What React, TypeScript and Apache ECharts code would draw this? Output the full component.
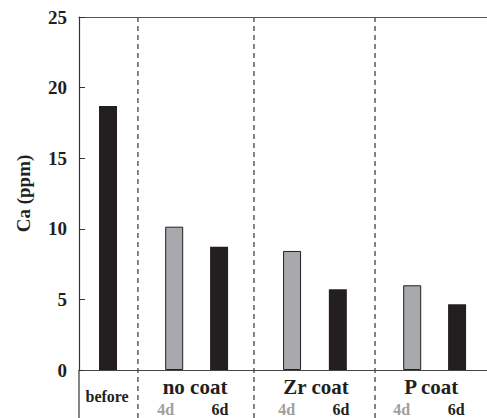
import React, { useEffect, useRef } from "react";
import * as echarts from "echarts";

// positions along the x axis (arbitrary units, plot spans 0..9)
const barPositions = [0.64, 2.1, 3.09, 4.7, 5.71, 7.35, 8.34];
const barValues = [18.7, 10.15, 8.73, 8.43, 5.71, 6.0, 4.65];
const barKinds = ["6d", "4d", "6d", "4d", "6d", "4d", "6d"];
const separators = [1.3, 3.86, 6.53];
const groupLabels = ["no coat", "Zr coat", "P coat"];
const groupCenters = [2.56, 5.23, 7.77];
const dayLabels = ["4d", "6d"];
const dayOffsets = [-0.65, 0.55];
const beforeLabel = "before";
const beforePos = 0.62;
const yTicks = [0, 5, 10, 15, 20, 25];

const BLACK = "#231f20";
const GRAY = "#a7a9ac";
const FONT = "'Liberation Serif', 'Times New Roman', serif";

export default function App() {
  const ref = useRef<HTMLDivElement>(null);
  useEffect(() => {
    document.body.style.margin = "0";
    const chart = echarts.init(ref.current!, null, { renderer: "svg" });
    const data = barPositions.map((x, i) => ({
      value: [x, barValues[i]],
      itemStyle:
        barKinds[i] === "4d"
          ? { color: GRAY, borderColor: BLACK, borderWidth: 1 }
          : { color: BLACK },
    }));
    chart.setOption({
      animation: false,
      grid: { left: 79, top: 17, right: 0, bottom: 48 },
      xAxis: [
        {
          type: "value",
          min: 0,
          max: 9,
          position: "bottom",
          axisLine: { show: true, lineStyle: { color: "#444", width: 1.2 } },
          axisTick: { show: false },
          axisLabel: { show: false },
          splitLine: { show: false },
        },
        {
          type: "value",
          min: 0,
          max: 9,
          position: "top",
          axisLine: { show: true, lineStyle: { color: "#555", width: 1.2 } },
          axisTick: { show: false },
          axisLabel: { show: false },
          splitLine: { show: false },
        },
      ],
      yAxis: {
        type: "value",
        min: 0,
        max: 25,
        interval: 5,
        name: "Ca (ppm)",
        nameLocation: "middle",
        nameGap: 46,
        nameTextStyle: { fontFamily: FONT, fontWeight: "bold", fontSize: 19, color: BLACK },
        axisLine: { show: true, lineStyle: { color: "#333", width: 1.2 } },
        axisTick: { show: true, inside: true, length: 6, lineStyle: { color: "#333" } },
        axisLabel: {
          fontFamily: FONT,
          fontWeight: "bold",
          fontSize: 19,
          color: BLACK,
          margin: 12,
          formatter: (v: number) => (yTicks.includes(v) ? String(v) : ""),
        },
        splitLine: { show: false },
      },
      series: [
        {
          type: "bar",
          barWidth: 18,
          data,
        },
      ],
    });

    const px = (x: number) => chart.convertToPixel({ xAxisIndex: 0 }, x) as number;
    const y0 = chart.convertToPixel({ yAxisIndex: 0 }, 0) as number;
    const yTop = chart.convertToPixel({ yAxisIndex: 0 }, 25) as number;
    const graphic: any[] = [];
    separators.forEach((s) => {
      graphic.push({
        type: "line",
        shape: { x1: px(s), y1: yTop, x2: px(s), y2: 418 },
        style: { stroke: "#333", lineWidth: 1.2, lineDash: [5, 4] },
      });
    });
    graphic.push({
      type: "line",
      shape: { x1: px(0), y1: y0, x2: px(0), y2: 418 },
      style: { stroke: "#333", lineWidth: 1.2 },
    });
    graphic.push({
      type: "text",
      x: px(beforePos),
      y: y0 + 26,
      style: {
        text: beforeLabel,
        fontFamily: FONT,
        fontWeight: "bold",
        fontSize: 16,
        fill: BLACK,
        align: "center",
        verticalAlign: "middle",
      },
    });
    groupCenters.forEach((c, i) => {
      graphic.push({
        type: "text",
        x: px(c),
        y: y0 + 17,
        style: {
          text: groupLabels[i],
          fontFamily: FONT,
          fontWeight: "bold",
          fontSize: 21,
          fill: BLACK,
          align: "center",
          verticalAlign: "middle",
        },
      });
      dayLabels.forEach((d, j) => {
        graphic.push({
          type: "text",
          x: px(c + dayOffsets[j]),
          y: y0 + 39,
          style: {
            text: d,
            fontFamily: FONT,
            fontWeight: "bold",
            fontSize: 16,
            fill: j === 0 ? "#a0a0a0" : BLACK,
            align: "center",
            verticalAlign: "middle",
          },
        });
      });
    });
    chart.setOption({ graphic });
    return () => chart.dispose();
  }, []);
  return <div ref={ref} style={{ width: 487, height: 418 }} />;
}
